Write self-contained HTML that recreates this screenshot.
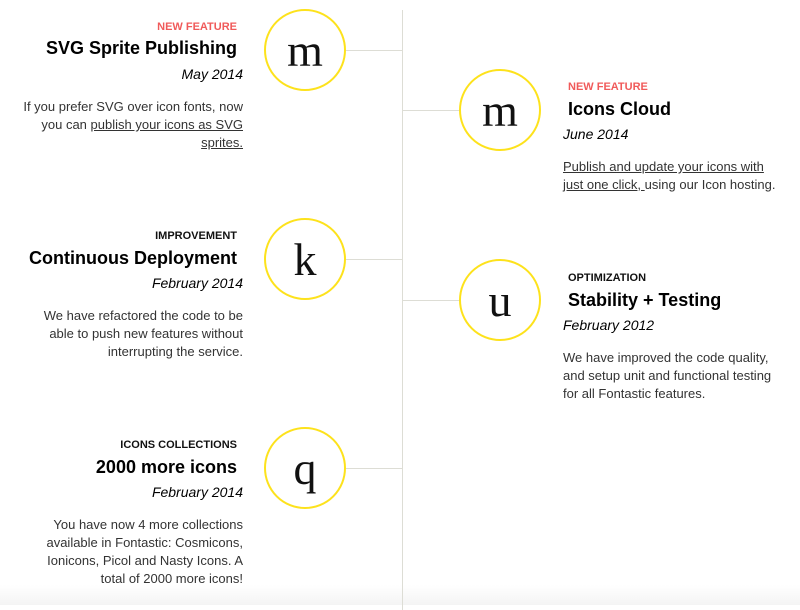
<!DOCTYPE html>
<html><head><meta charset="utf-8"><style>
*{margin:0;padding:0;box-sizing:border-box}
body{width:800px;height:605px;position:relative;overflow:hidden;background:#fff;font-family:"Liberation Sans",Arial,sans-serif;color:#333}
.a{position:absolute;white-space:nowrap}
.L{text-align:right}
.lab{font-size:11px;font-weight:bold;color:#111;line-height:14px}
.red{color:#f05a5a}
.t{font-size:18px;font-weight:bold;color:#000;line-height:22px}
.d{font-size:14px;font-style:italic;color:#000;line-height:18px}
.b{font-size:13px;line-height:18px;color:#333}
.b u{text-decoration:underline}
.c{position:absolute;width:82px;height:82px;border:2px solid #fde21c;border-radius:50%;font-family:"Liberation Serif",serif;font-size:46px;text-align:center;line-height:80px;color:#111;background:#fff}
.h{position:absolute;height:1px;background:#ddddd5}
.v{position:absolute;left:402px;top:10px;width:1px;height:600px;background:#ddddd5}
.fade{position:absolute;left:0;top:585px;width:800px;height:20px;background:linear-gradient(#fff,#f4f4f4)}
</style></head><body>
<div class="fade"></div>
<div class="v"></div>
<div class="h" style="left:346px;top:50px;width:56px"></div>
<div class="h" style="left:346px;top:259px;width:56px"></div>
<div class="h" style="left:346px;top:468px;width:56px"></div>
<div class="h" style="left:402px;top:110px;width:57px"></div>
<div class="h" style="left:402px;top:300px;width:57px"></div>

<div class="c" style="left:264px;top:9px">m</div>
<div class="c" style="left:264px;top:218px">k</div>
<div class="c" style="left:264px;top:427px">q</div>
<div class="c" style="left:459px;top:69px">m</div>
<div class="c" style="left:459px;top:259px">u</div>

<div class="a L lab red" style="right:563px;top:20px">NEW FEATURE</div>
<div class="a L t" style="right:563px;top:37px">SVG Sprite Publishing</div>
<div class="a L d" style="right:557px;top:65px">May 2014</div>
<div class="a L b" style="right:557px;top:98px">If you prefer SVG over icon fonts, now<br>you can <u>publish your icons as SVG</u><br><u>sprites.</u></div>

<div class="a L lab" style="right:563px;top:229px">IMPROVEMENT</div>
<div class="a L t" style="right:563px;top:247px">Continuous Deployment</div>
<div class="a L d" style="right:557px;top:274px">February 2014</div>
<div class="a L b" style="right:557px;top:307px">We have refactored the code to be<br>able to push new features without<br>interrupting the service.</div>

<div class="a L lab" style="right:563px;top:438px">ICONS COLLECTIONS</div>
<div class="a L t" style="right:563px;top:456px">2000 more icons</div>
<div class="a L d" style="right:557px;top:483px">February 2014</div>
<div class="a L b" style="right:557px;top:516px">You have now 4 more collections<br>available in Fontastic: Cosmicons,<br>Ionicons, Picol and Nasty Icons. A<br>total of 2000 more icons!</div>

<div class="a lab red" style="left:568px;top:80px">NEW FEATURE</div>
<div class="a t" style="left:568px;top:98px">Icons Cloud</div>
<div class="a d" style="left:563px;top:125px">June 2014</div>
<div class="a b" style="left:563px;top:158px"><u>Publish and update your icons with</u><br><u>just one click, </u>using our Icon hosting.</div>

<div class="a lab" style="left:568px;top:271px">OPTIMIZATION</div>
<div class="a t" style="left:568px;top:289px">Stability + Testing</div>
<div class="a d" style="left:563px;top:316px">February 2012</div>
<div class="a b" style="left:563px;top:349px">We have improved the code quality,<br>and setup unit and functional testing<br>for all Fontastic features.</div>
</body></html>
